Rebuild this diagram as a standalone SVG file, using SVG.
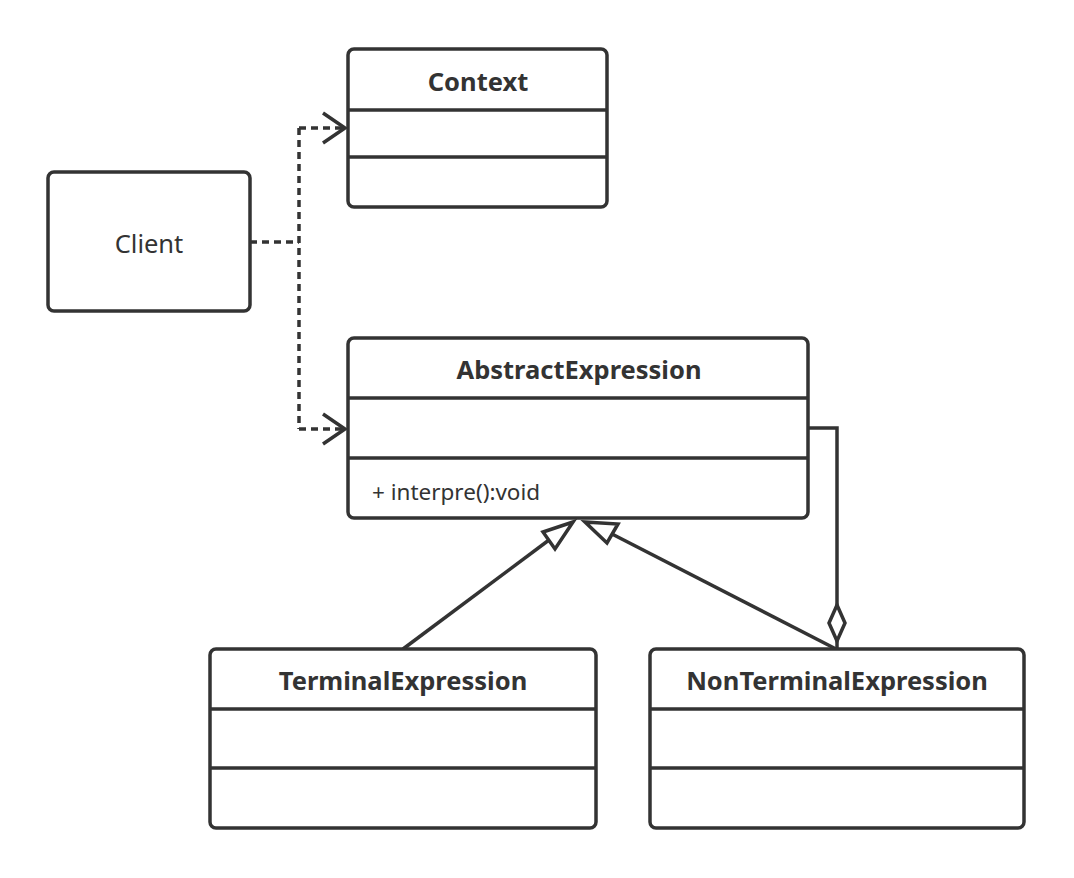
<svg xmlns="http://www.w3.org/2000/svg" width="1074" height="878" viewBox="0 0 1074 878">
<style>
.box{fill:#fff;stroke:#333;stroke-width:3.5}
.div{stroke:#333;stroke-width:3.5}
.t{font-family:"Noto Sans","Open Sans",sans-serif;fill:#333;font-size:22px}
.b{font-weight:bold;text-anchor:middle;font-size:25.5px}
.ln{fill:none;stroke:#333;stroke-width:3.5}
.dash{fill:none;stroke:#333;stroke-width:3.5;stroke-dasharray:7 5}
</style>
<rect width="1074" height="878" fill="#fff"/>
<g id="connectors">
<path class="dash" d="M250,242 H299"/>
<path class="dash" d="M299,128 V429"/>
<path class="dash" d="M299,128 H344"/>
<path class="dash" d="M299,429 H344"/>
<path class="ln" d="M323,113 L345,128 L323,143"/>
<path class="ln" d="M323,414 L345,429 L323,444"/>
<path class="ln" d="M403,649 L549,540"/>
<polygon class="ln" points="573,522 543,532 555,549"/>
<path class="ln" d="M836,649 L612,534"/>
<polygon class="ln" points="585,522 618,524 607,543"/>
<path class="ln" d="M808,428 H837 V605"/>
<polygon class="ln" points="837,605 845,623 837,641 829,623"/>
<path class="ln" d="M837,641 V649"/>
</g>
<g id="client">
<rect class="box" x="48" y="172" width="202" height="139" rx="6"/>
<text class="t" x="149" y="253" text-anchor="middle" style="font-size:25.5px">Client</text>
</g>
<g id="context">
<rect class="box" x="348" y="49" width="259" height="158" rx="6"/>
<path class="div" d="M348,110 H607 M348,157 H607"/>
<text class="t b" x="478" y="91">Context</text>
</g>
<g id="abstractExpression">
<rect class="box" x="348" y="338" width="460" height="180" rx="6"/>
<path class="div" d="M348,398 H808 M348,458 H808"/>
<text class="t b" x="579" y="379">AbstractExpression</text>
<text class="t" x="372" y="500" style="font-size:22.5px">+ interpre():void</text>
</g>
<g id="terminalExpression">
<rect class="box" x="210" y="649" width="386" height="179" rx="6"/>
<path class="div" d="M210,709 H596 M210,768 H596"/>
<text class="t b" x="403" y="690">TerminalExpression</text>
</g>
<g id="nonTerminalExpression">
<rect class="box" x="650" y="649" width="374" height="179" rx="6"/>
<path class="div" d="M650,709 H1024 M650,768 H1024"/>
<text class="t b" x="837" y="690">NonTerminalExpression</text>
</g>
</svg>
